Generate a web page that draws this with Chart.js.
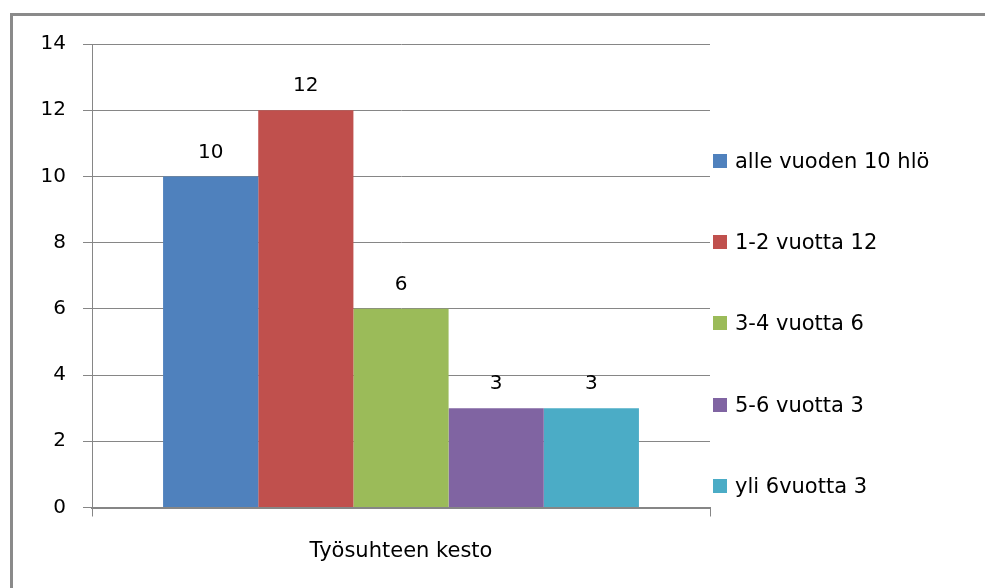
<!DOCTYPE html>
<html>
<head>
<meta charset="utf-8">
<script src="https://cdn.jsdelivr.net/npm/chart.js@4/dist/chart.umd.min.js"></script>
<style>
  html, body { margin: 0; padding: 0; background: #fff; }
  #wrap { width: 985px; height: 588px; position: relative; }
</style>
</head>
<body>
<div id="wrap"><canvas id="barChart" width="985" height="588"></canvas></div>
<script>
var categories = ["Työsuhteen kesto"];
var seriesNames = ["alle vuoden 10 hlö", "1-2 vuotta 12", "3-4 vuotta 6", "5-6 vuotta 3", "yli 6vuotta 3"];
var seriesValues = [10, 12, 6, 3, 3];
var seriesColors = ["#4F81BD", "#C0504D", "#9BBB59", "#8064A2", "#4BACC6"];
var yTicks = [0, 2, 4, 6, 8, 10, 12, 14];

var gridColor = "#868686";
var fontFamily = "'DejaVu Sans', sans-serif";

// gray frame along the top and left edges
var framePlugin = {
    id: 'frame',
    beforeDraw: function (chart) {
        var ctx = chart.ctx;
        ctx.save();
        ctx.fillStyle = "#ffffff";
        ctx.fillRect(0, 0, chart.width, chart.height);
        ctx.strokeStyle = "#8a8a8a";
        ctx.lineWidth = 3;
        ctx.beginPath();
        ctx.moveTo(10, 14.5);
        ctx.lineTo(chart.width, 14.5);
        ctx.moveTo(11.5, 13);
        ctx.lineTo(11.5, chart.height);
        ctx.stroke();
        ctx.restore();
    }
};

// value above every bar
var valueLabels = {
    id: 'valueLabels',
    afterDatasetsDraw: function (chart) {
        var ctx = chart.ctx;
        ctx.save();
        ctx.font = "20px " + fontFamily;
        ctx.fillStyle = "#000";
        ctx.textAlign = "center";
        ctx.textBaseline = "middle";
        chart.data.datasets.forEach(function (ds, i) {
            var meta = chart.getDatasetMeta(i);
            meta.data.forEach(function (bar, j) {
                ctx.fillText(String(ds.data[j]), bar.x, bar.y - 24);
            });
        });
        ctx.restore();
    }
};

// legend on the right, one row per series
var sideLegend = {
    id: 'sideLegend',
    afterDraw: function (chart) {
        var ctx = chart.ctx;
        var x0 = chart.chartArea.right + 3;
        var firstY = 161, step = 81.2;
        ctx.save();
        ctx.font = "21px " + fontFamily;
        ctx.textBaseline = "middle";
        ctx.textAlign = "left";
        chart.data.datasets.forEach(function (ds, i) {
            var cy = Math.round(firstY + i * step);
            ctx.fillStyle = ds.backgroundColor;
            ctx.fillRect(x0, cy - 7, 14, 14);
            ctx.fillStyle = "#000";
            ctx.fillText(ds.label, x0 + 22, cy + 1.5);
        });
        ctx.restore();
    }
};

var ctxB = document.getElementById("barChart").getContext('2d');
var myBarChart = new Chart(ctxB, {
    type: 'bar',
    data: {
        labels: categories,
        datasets: seriesNames.map(function (name, i) {
            return {
                label: name,
                data: [seriesValues[i]],
                backgroundColor: seriesColors[i],
                borderWidth: 0,
                categoryPercentage: 0.77,
                barPercentage: 1.0
            };
        })
    },
    options: {
        responsive: false,
        animation: false,
        layout: { padding: { top: 44, right: 275, left: 0, bottom: 0 } },
        plugins: {
            legend: { display: false },
            tooltip: { enabled: false }
        },
        scales: {
            x: {
                grid: { drawOnChartArea: false, drawTicks: true, tickLength: 9, color: gridColor, offset: true },
                border: { display: true, color: gridColor, width: 2 },
                ticks: { color: "#000", font: { family: fontFamily, size: 21 }, padding: 22 },
                afterFit: function (s) { s.height = 80.5; }
            },
            y: {
                min: 0,
                max: 14,
                afterBuildTicks: function (s) { s.ticks = yTicks.map(function (v) { return { value: v }; }); },
                grid: { color: gridColor, lineWidth: 1, drawTicks: true, tickLength: 9 },
                border: { display: true, color: gridColor, width: 1 },
                ticks: { color: "#000", font: { family: fontFamily, size: 20 }, padding: 17 },
                afterFit: function (s) { s.width = 92; }
            }
        }
    },
    plugins: [framePlugin, valueLabels, sideLegend]
});
</script>
</body>
</html>
